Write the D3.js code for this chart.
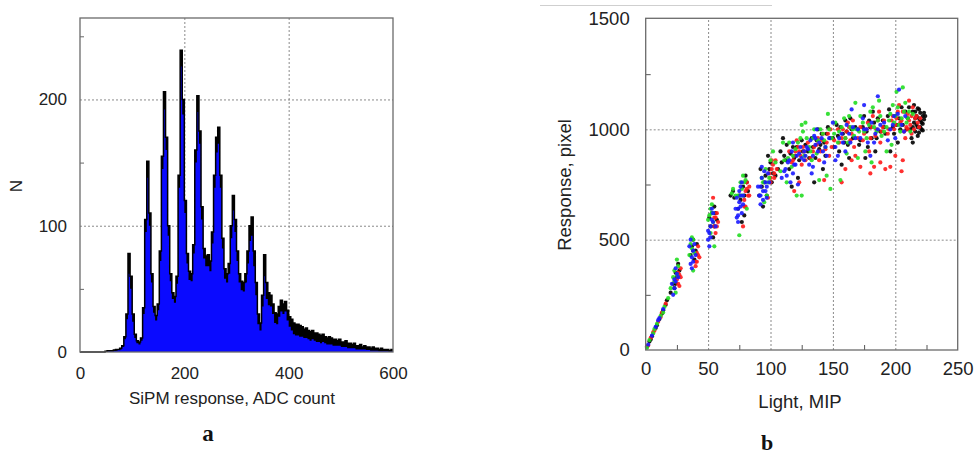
<!DOCTYPE html>
<html>
<head>
<meta charset="utf-8">
<script src="https://cdn.jsdelivr.net/npm/d3@7"></script>
<style>
  html, body { margin: 0; padding: 0; background: #fff; }
  svg { display: block; }
</style>
</head>
<body>
<svg id="fig" width="974" height="454"></svg>
<script>
// ---- Panel a: SiPM response histogram (4 ADC-count bins, 0..600) ----
const binWidth = 4;
const countsAll = [
  0,0,0,0,0,0,0,0,0,0,
  0,0,0.5,1,1,1,1.5,2,2,3,
  5,12,30,78,60,30,14,9,8,11,
  35,105,151,110,62,36,29,38,80,155,
  206,170,100,62,47,44,60,140,239,200,
  120,78,64,62,85,160,203,175,115,82,
  76,77,72,95,140,170,178,140,90,66,
  62,70,100,124,105,80,62,56,55,62,
  80,100,107,80,55,30,23,45,77,55,
  47,45,38,31,30,36,41,38,40,33,
  28,26,23,22,22,21,20,18,19,17,
  16,17,15,15,14,13,14,12,11,12,
  11,10,10,9,10,8,8,9,7,7,
  6,7,5,5,6,4,5,4,4,3,
  4,3,3,2,3,2,2,2,1,2
];
const countsBlue = [
  0,0,0,0,0,0,0,0,0,0,
  0,0,0,0.5,0.5,0.5,1,1,1.5,2,
  4,10,26,62,50,24,11,7,6,9,
  30,95,138,100,55,31,25,33,72,145,
  192,160,92,56,42,39,54,130,226,188,
  110,70,57,56,78,150,190,165,105,74,
  68,68,64,86,130,158,165,130,82,58,
  55,62,90,112,95,72,55,49,48,55,
  70,88,92,68,45,22,17,36,60,42,
  37,36,30,23,22,28,32,30,32,25,
  20,17,14,13,13,12,12,11,11,10,
  9,10,9,8,8,7,8,7,6,6,
  6,5,5,5,5,4,4,4,3,3,
  3,3,2,2,2,2,2,1.5,1.5,1,
  1,1,1,0.5,0.5,0.5,0.5,0.5,0.3,0.3
];
const histXTicks = [0, 200, 400, 600];
const histYTicks = [0, 100, 200];
const histYMinor = [50, 150, 250];

// ---- Panel b: pixel response vs. light yield, four channels ----
const lightTicks = [0, 50, 100, 150, 200, 250];
const lightMinor = [25, 75, 125, 175, 225];
const respTicks = [0, 500, 1000, 1500];
const respMinor = [250, 750, 1250];

const ptsBlack = [
  [1,15],[3,38],[5,62],[8,100],[11,140],[14,180],[17,225],[4,48],[9,112],[13,165],[16,205],
  [22,300],[24,350],[26,390],[25,330],[23,280],[27,360],[24,300],[20,260],
  [36,430],[37,470],[38,500],[40,450],[39,410],[41,480],[38,450],
  [52,560],[53,620],[55,650],[57,590],[54,510],[56,620],[55,560],[51,600],
  [68,700],[70,720],[71,690],
  [74,640],[76,680],[78,740],[80,790],[82,720],[79,610],[77,580],[81,760],[79,700],[75,700],
  [92,820],[95,760],[97,700],[100,850],[102,800],[98,880],[94,650],[106,820],[104,790],[101,760],[99,820],[96,790],[93,740],[91,700],
  [108,900],[112,860],[115,820],[118,920],[120,880],[122,780],[125,950],[117,740],[110,960],
  [128,930],[126,900],[123,860],[121,920],[119,870],[116,890],[113,930],[111,880],[109,850],
  [130,900],[133,960],[136,870],[138,1000],[140,930],[142,820],[145,980],[135,760],[144,880],
  [148,960],[146,1010],[143,940],[141,980],[139,910],[137,950],[134,920],[131,870],
  [150,960],[153,1020],[155,900],[158,980],[160,1040],[162,930],[165,1000],[157,840],[163,870],
  [168,1010],[166,960],[164,1050],[161,990],[159,940],[156,1010],[154,970],[151,920],
  [170,1000],[172,950],[175,1060],[178,920],[180,1010],[182,1080],[185,960],[176,870],[184,900],
  [188,990],[186,1050],[183,1030],[181,960],[179,1040],[177,990],[174,1010],[171,930],
  [190,1040],[192,980],[195,1090],[198,1010],[200,1060],[202,940],[205,1100],[196,900],[204,1000],
  [206,1020],[208,1080],[209,1000],[203,1050],[201,1020],[199,980],[194,1060],[191,1010],
  [210,1050],[212,1000],[214,1080],[215,1030],[216,990],[217,1060],[218,1010],[219,1090],[220,1040],
  [221,1000],[222,1060],[218,970],[215,1110],[220,1075],[213,960],[222,1025],[219,985],[216,1050],
  [211,1100],[214,940],[223,1045],[217,1020],[219,1050],[221,1030],[216,1080],[214,1010],[220,1010],
  [223,1075],[222,995],[218,1095],[224,1060]
];
const ptsRed = [
  [2,20],[4,55],[7,88],[10,128],[13,170],[16,210],[6,80],[12,150],
  [26,300],[27,340],[28,370],[25,320],[27,290],[28,330],[26,350],
  [40,400],[41,440],[42,470],[40,380],[43,420],[42,430],[41,400],
  [55,560],[56,600],[57,620],[58,580],[56,530],[54,690],[57,560],[55,600],
  [79,680],[80,720],[81,760],[82,700],[83,740],[80,650],[78,560],[83,700],[81,730],[79,650],
  [100,780],[101,820],[102,840],[103,800],[104,860],[100,760],[98,690],[105,820],[103,780],[101,860],[99,800],
  [118,860],[120,900],[122,920],[124,880],[125,840],[127,900],[121,950],[119,720],[123,760],
  [128,860],[126,920],[123,900],[119,880],[117,850],[115,900],
  [135,920],[138,960],[140,900],[142,980],[145,940],[147,880],[139,860],[148,1000],[143,770],
  [149,920],[146,980],[144,910],[141,950],[137,930],[134,900],[132,870],[130,940],
  [155,940],[158,1000],[160,960],[162,1030],[165,980],[167,920],[163,1010],[168,880],[160,820],[165,860],
  [166,1040],[164,950],[161,990],[157,960],[154,1000],[151,950],[157,760],
  [175,980],[178,1030],[180,960],[182,1060],[185,1000],[188,940],[187,1080],[190,1010],[183,830],[179,900],
  [189,990],[186,1040],[184,970],[181,1010],[177,1000],[174,950],[172,1010],[170,960],[180,800],[172,830],[188,850],
  [195,1000],[198,1060],[200,1020],[202,1080],[205,1040],[207,990],[210,1070],[212,1020],[214,1100],
  [208,960],[211,1130],[213,980],[196,830],[206,860],[192,820],[200,880],[216,1050],[218,1030],[215,1000],
  [217,1060],[219,1010],[220,1050],[213,1060],[211,1040],[209,1010],[206,1080],[204,1030],[201,1050],
  [199,1000],[197,1040],[194,980],[191,1040],[205,810],[210,1000],[203,1110]
];
const ptsGreen = [
  [1,10],[3,45],[6,75],[9,118],[12,155],[15,195],[18,235],[7,95],[14,170],
  [22,330],[23,360],[25,410],[24,260],[26,380],[25,340],[23,310],[20,280],
  [36,480],[37,510],[38,500],[39,440],[38,360],[37,460],[35,430],
  [51,610],[52,640],[53,660],[54,580],[55,470],[52,530],[53,620],[50,590],
  [69,710],[70,730],[72,700],
  [76,760],[78,790],[80,770],[75,520],[77,700],[81,640],[79,760],[77,730],[74,700],
  [93,780],[96,820],[98,760],[100,860],[97,700],[95,670],[102,900],[104,850],[99,780],[94,760],
  [110,940],[114,870],[117,830],[120,910],[124,960],[126,990],[113,760],[121,700],[128,1030],
  [125,1020],[122,940],[118,880],[115,940],[111,860],[108,810],[125,700],
  [131,920],[134,960],[137,890],[140,1000],[143,950],[146,1070],[133,860],[139,770],[145,790],
  [149,960],[147,1000],[144,920],[142,980],[138,950],[135,1000],[132,900],[129,960],[127,880],[148,730],
  [151,980],[154,940],[157,1010],[160,960],[163,1060],[166,1000],[156,770],[161,890],[168,1120],
  [169,1000],[167,970],[164,1010],[162,940],[159,1050],[155,990],[152,1030],[170,870],
  [171,990],[174,1030],[177,960],[180,1080],[183,1010],[186,1040],[189,970],[176,900],[181,850],[187,1130],
  [188,1060],[185,990],[182,1100],[179,1020],[175,990],[172,1060],
  [193,1010],[196,1070],[199,1030],[202,1100],[205,1050],[208,1120],[211,1080],[201,1170],[197,930],
  [204,990],[209,1030],[212,990],[214,1070],[210,1050],[207,1080],[203,1020],[200,1060],[198,1110],
  [195,1040],[191,990],[193,900],[206,1190]
];
const ptsBlue = [
  [2,25],[5,65],[8,105],[11,145],[14,185],[10,135],
  [22,250],[23,280],[24,310],[25,345],[23,320],[24,370],[26,330],[21,300],
  [36,390],[37,420],[38,450],[39,480],[37,370],[36,500],[40,430],[38,400],[35,470],
  [50,500],[51,530],[52,560],[53,590],[54,620],[51,470],[53,640],[52,510],[56,560],[54,580],[50,540],
  [73,600],[74,640],[75,670],[76,700],[77,620],[75,720],[74,580],[78,660],[76,740],[73,690],[77,760],
  [78,700],[76,650],[74,610],[72,640],
  [91,700],[92,740],[93,780],[94,720],[95,810],[96,760],[97,690],[93,830],[92,660],[98,800],
  [99,760],[97,740],[96,720],[94,680],[92,700],[90,740],
  [112,820],[115,860],[117,900],[119,840],[121,880],[113,790],[116,760],[124,920],[127,860],[118,940],[122,750],
  [120,840],[118,800],[114,850],[111,810],[109,780],
  [128,880],[130,910],[132,950],[134,880],[136,930],[138,900],[131,840],[135,970],[133,800],[141,960],[144,920],[137,1000],
  [136,960],[139,940],[142,900],[145,880],[147,960],[129,920],[127,900],[125,870],[123,890],[143,850],[134,830],
  [152,920],[155,960],[158,940],[160,900],[163,980],[166,1010],[154,880],[150,1030],
  [157,980],[161,1020],[164,940],[168,960],[152,860],[165,1090],
  [172,960],[175,1000],[178,940],[181,1030],[184,980],[180,880],[188,1020],
  [170,1000],[174,1050],[177,1000],[183,940],[186,1000],[175,1110],
  [196,1000],[199,1060],[203,1180],[205,1020],[208,1060],[200,960],[186,1150],
  [191,1030],[194,950],[198,1020],[202,1070],[207,990]
];
const channels = [
  { name: "ch1", color: "#000000", pts: ptsBlack },
  { name: "ch2", color: "#ff1a1a", pts: ptsRed },
  { name: "ch3", color: "#22dd22", pts: ptsGreen },
  { name: "ch4", color: "#1a1aff", pts: ptsBlue }
];

const svg = d3.select("#fig");
const sansFont = "'Liberation Sans', Arial, Helvetica, sans-serif";
const serifFont = "'Liberation Serif', 'Times New Roman', serif";
const plain = d3.format("d");

// thin rule at the top of the page
svg.append("line").attr("x1", 540).attr("x2", 772).attr("y1", 5.5).attr("y2", 5.5)
  .attr("stroke", "#cfcfcf").attr("stroke-width", 1);

function styleAxisText(g, size) {
  g.select(".domain").remove();
  g.selectAll(".tick line").remove();
  g.selectAll(".tick text").attr("font-family", sansFont).attr("font-size", size).attr("fill", "#222");
}
function styleGrid(g) {
  g.select(".domain").remove();
  g.selectAll(".tick line").attr("stroke", "#8a8a8a").attr("stroke-dasharray", "2,2");
}

// ================= Panel a =================
{
  const L = 80, R = 393, T = 18, B = 352;
  const x = d3.scaleLinear().domain([0, 600]).range([L, R]);
  const y = d3.scaleLinear().domain([0, 264.5]).range([B, T]);
  const g = svg.append("g");

  g.append("g").attr("transform", `translate(0,${B})`)
    .call(d3.axisBottom(x).tickValues([200, 400]).tickSize(-(B - T)).tickFormat(""))
    .call(styleGrid);
  g.append("g").attr("transform", `translate(${L},0)`)
    .call(d3.axisLeft(y).tickValues([100, 200]).tickSize(-(R - L)).tickFormat(""))
    .call(styleGrid);

  // histogram bins -> step series
  const stepData = arr => arr.map((v, i) => [i * binWidth, v]).concat([[arr.length * binWidth, arr[arr.length - 1]]]);
  const area = d3.area().x(d => x(d[0])).y0(y(0)).y1(d => y(d[1])).curve(d3.curveStepAfter);
  const line = d3.line().x(d => x(d[0])).y(d => y(d[1])).curve(d3.curveStepAfter);

  g.append("path").datum(stepData(countsAll)).attr("d", area).attr("fill", "#000");
  g.append("path").datum(stepData(countsBlue)).attr("d", area).attr("fill", "#0a0aff");
  g.append("path").datum(stepData(countsAll)).attr("d", line)
    .attr("fill", "none").attr("stroke", "#000").attr("stroke-width", 1.5);

  g.append("g").attr("transform", `translate(${L},0)`)
    .call(d3.axisLeft(y).tickValues(histYMinor).tickSize(-4).tickFormat(""))
    .call(s => { s.select(".domain").remove(); s.selectAll(".tick line").attr("stroke", "#666"); });

  g.append("rect").attr("x", L).attr("y", T).attr("width", R - L).attr("height", B - T)
    .attr("fill", "none").attr("stroke", "#6a6a6a").attr("stroke-width", 1.3);

  g.append("g").attr("transform", `translate(0,${B})`)
    .call(d3.axisBottom(x).tickValues(histXTicks).tickSize(0).tickPadding(15).tickFormat(plain))
    .call(s => styleAxisText(s, 17));
  g.append("g").attr("transform", `translate(${L},0)`)
    .call(d3.axisLeft(y).tickValues(histYTicks).tickSize(0).tickPadding(13).tickFormat(plain))
    .call(s => styleAxisText(s, 17));

  g.append("text").attr("x", 232).attr("y", 404).attr("text-anchor", "middle")
    .attr("font-family", sansFont).attr("font-size", 17).attr("fill", "#222")
    .text("SiPM response, ADC count");
  g.append("text").attr("transform", "translate(22,186) rotate(-90)").attr("text-anchor", "middle")
    .attr("font-family", sansFont).attr("font-size", 17).attr("fill", "#222").text("N");
  g.append("text").attr("x", 208).attr("y", 441).attr("text-anchor", "middle")
    .attr("font-family", serifFont).attr("font-weight", "bold").attr("font-size", 23).attr("fill", "#111").text("a");
}

// ================= Panel b =================
{
  const L = 645.7, R = 957.7, T = 18.3, B = 350;
  const x = d3.scaleLinear().domain([0, 250]).range([L, R]);
  const y = d3.scaleLinear().domain([0, 1500]).range([B, 19]);
  const g = svg.append("g");

  g.append("g").attr("transform", `translate(0,${B})`)
    .call(d3.axisBottom(x).tickValues([50, 100, 150, 200]).tickSize(-(B - T)).tickFormat(""))
    .call(styleGrid);
  g.append("g").attr("transform", `translate(${L},0)`)
    .call(d3.axisLeft(y).tickValues([500, 1000]).tickSize(-(R - L)).tickFormat(""))
    .call(styleGrid);

  channels.forEach(ch => {
    g.append("g").selectAll("circle").data(ch.pts).join("circle")
      .attr("cx", d => x(d[0])).attr("cy", d => y(d[1])).attr("r", 2.1)
      .attr("fill", ch.color).attr("fill-opacity", 0.9);
  });

  g.append("g").attr("transform", `translate(0,${B})`)
    .call(d3.axisBottom(x).tickValues(lightMinor).tickSize(-5).tickFormat(""))
    .call(s => { s.select(".domain").remove(); s.selectAll(".tick line").attr("stroke", "#555"); });
  g.append("g").attr("transform", `translate(${L},0)`)
    .call(d3.axisLeft(y).tickValues(respMinor).tickSize(-5).tickFormat(""))
    .call(s => { s.select(".domain").remove(); s.selectAll(".tick line").attr("stroke", "#555"); });

  g.append("rect").attr("x", L).attr("y", T).attr("width", R - L).attr("height", B - T)
    .attr("fill", "none").attr("stroke", "#6a6a6a").attr("stroke-width", 1.3);

  g.append("g").attr("transform", `translate(0,${B})`)
    .call(d3.axisBottom(x).tickValues(lightTicks).tickSize(0).tickPadding(12).tickFormat(plain))
    .call(s => styleAxisText(s, 18.5));
  g.append("g").attr("transform", `translate(${L},0)`)
    .call(d3.axisLeft(y).tickValues(respTicks).tickSize(0).tickPadding(16).tickFormat(plain))
    .call(s => styleAxisText(s, 18.5));

  g.append("text").attr("x", 800).attr("y", 408).attr("text-anchor", "middle")
    .attr("font-family", sansFont).attr("font-size", 18.5).attr("fill", "#222").text("Light, MIP");
  g.append("text").attr("transform", "translate(571,185) rotate(-90)").attr("text-anchor", "middle")
    .attr("font-family", sansFont).attr("font-size", 18.5).attr("fill", "#222").text("Response, pixel");
  g.append("text").attr("x", 767).attr("y", 450).attr("text-anchor", "middle")
    .attr("font-family", serifFont).attr("font-weight", "bold").attr("font-size", 22).attr("fill", "#111").text("b");
}
</script>
</body>
</html>
